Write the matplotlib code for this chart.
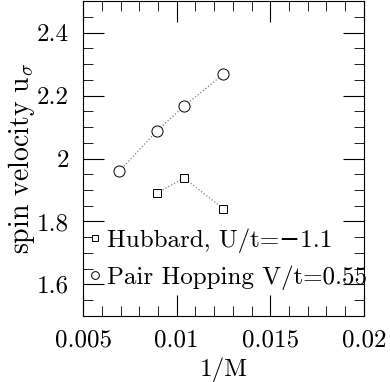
import matplotlib
matplotlib.use("Agg")
import matplotlib.pyplot as plt
from matplotlib.ticker import MultipleLocator

plt.rcParams['font.family'] = ['cmr10', 'DejaVu Serif']
plt.rcParams['mathtext.fontset'] = 'cm'
plt.rcParams['axes.formatter.use_mathtext'] = True

# data
inv_M_pair = [0.00694, 0.00893, 0.0104, 0.0125]
u_pair = [1.96, 2.087, 2.167, 2.268]
inv_M_hub = [0.00893, 0.0104, 0.0125]
u_hub = [1.890, 1.938, 1.840]

fig = plt.figure(figsize=(3.9, 3.82), dpi=100)
ax = fig.add_axes([0.213, 0.173, 0.72, 0.824])

ax.plot(inv_M_hub, u_hub, color="gray", linestyle=":", linewidth=0.9)
ax.plot(inv_M_hub, u_hub, linestyle="none", marker="s", markersize=5.5,
        markerfacecolor="white", markeredgecolor="black", markeredgewidth=0.7,
        label="Hubbard, U/t=\u22121.1")
ax.plot(inv_M_pair, u_pair, color="gray", linestyle=":", linewidth=0.9)
ax.plot(inv_M_pair, u_pair, linestyle="none", marker="o", markersize=8,
        markerfacecolor="white", markeredgecolor="black", markeredgewidth=0.7,
        label="Pair Hopping V/t=0.55")

ax.set_xlim(0.005, 0.02)
ax.set_ylim(1.5, 2.5)
ax.xaxis.set_minor_locator(MultipleLocator(0.001))
ax.yaxis.set_minor_locator(MultipleLocator(0.05))
ax.set_xticks([0.005, 0.01, 0.015, 0.02])
ax.set_xticklabels(["0.005", "0.01", "0.015", "0.02"])
ax.set_yticks([1.6, 1.8, 2.0, 2.2, 2.4])
ax.set_yticklabels(["1.6", "1.8", "2", "2.2", "2.4"])
ax.tick_params(which="both", direction="in", top=True, right=True, labelsize=18)
ax.tick_params(which="major", length=15, width=0.8, pad=10)
ax.tick_params(which="minor", length=7, width=0.6)

ax.set_xlabel("1/M", fontsize=18, labelpad=4)
ax.set_ylabel(r"spin velocity u$_\sigma$", fontsize=20, labelpad=0)

leg = ax.legend(loc="lower left", frameon=False, fontsize=18, handlelength=0.4,
                handletextpad=0.25, borderaxespad=0.0, labelspacing=0.5,
                bbox_to_anchor=(-0.01, 0.05), markerscale=0.7)

fig.savefig("out.png", dpi=100)
